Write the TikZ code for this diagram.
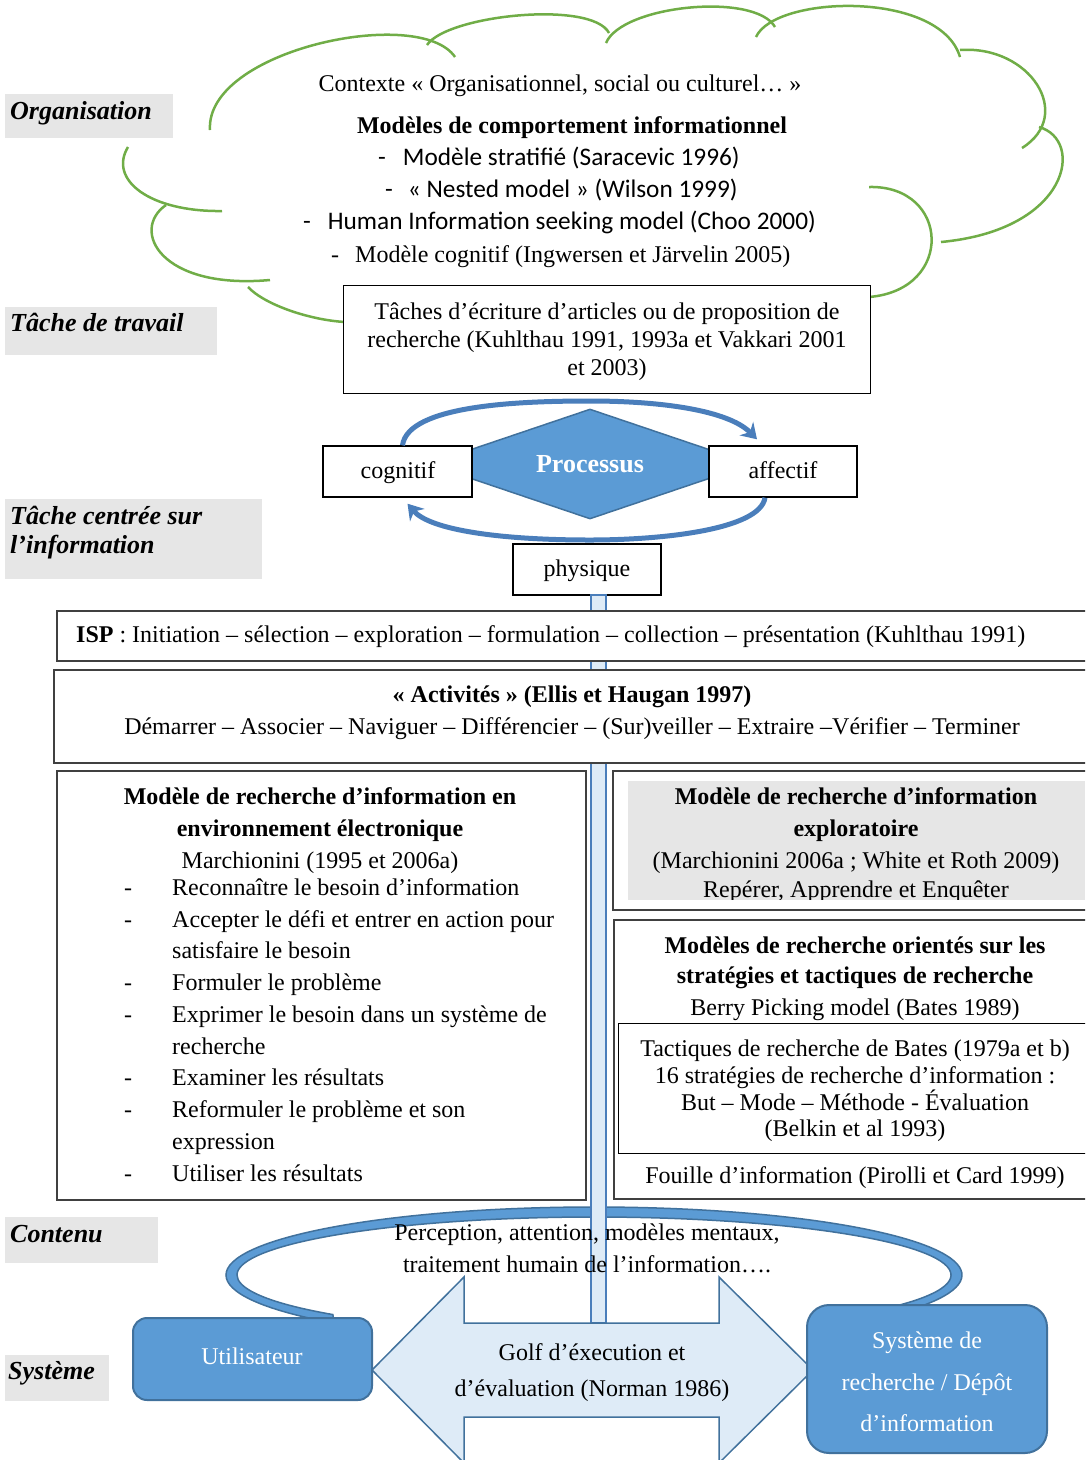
\documentclass[tikz,border=0pt]{standalone}
\usepackage{fontspec}
\setmainfont{Liberation Serif}
\newfontfamily\calib{Carlito}
\usetikzlibrary{arrows.meta,shapes.geometric}
\definecolor{cloudgreen}{HTML}{70AD47}
\definecolor{labelgray}{HTML}{E6E6E6}
\definecolor{boxline}{HTML}{404040}
\definecolor{blueA}{HTML}{5B9BD5}
\definecolor{blueB}{HTML}{41719C}
\definecolor{blueC}{HTML}{4A7EBB}
\definecolor{paleblue}{HTML}{DEEBF7}
\begin{document}
\begin{tikzpicture}[x=1pt,y=-1pt,
  txt/.style={inner sep=0pt, font=\fontsize{24}{30}\selectfont, text height=19pt, text depth=3pt},
  txtb/.style={txt, font=\fontsize{24}{30}\selectfont\bfseries},
  txtc/.style={txt, font=\calib\fontsize{25.3}{30}\selectfont},
  lab/.style={inner sep=0pt, anchor=west, font=\fontsize{26}{32}\selectfont\bfseries\itshape, text height=20pt, text depth=4pt},
  graybox/.style={fill=labelgray, inner sep=0pt, anchor=north west},
  boxnode/.style={draw=boxline, line width=1.6pt, fill=white, inner sep=0pt, anchor=north west},
  cloudarc/.style={draw=cloudgreen, line width=2.5pt},
  carrow/.style={draw=blueC, line width=5pt, -{Stealth[length=15pt,width=19pt]}},
  bluebox/.style={fill=blueA, draw=blueB, line width=2pt, inner sep=0pt},
  whitetxt/.style={text=white, inner sep=0pt, font=\fontsize{24}{41.5}\selectfont, align=center},
]
\useasboundingbox (0,0) rectangle (1085,1460);
\clip (0,0) rectangle (1085,1460);

% ---- level labels on the left
\node[graybox, minimum width=168pt, minimum height=44pt] (orgbox) at (5,94) {};
\node[lab] (org) at (10,111) {Organisation};
\node[graybox, minimum width=212pt, minimum height=48pt] (travbox) at (5,307) {};
\node[lab] (trav) at (10,323) {Tâche de travail};
\node[graybox, minimum width=257pt, minimum height=80pt] (infobox) at (5,499) {};
\node[lab] (info1) at (10,516) {Tâche centrée sur};
\node[lab] (info2) at (10,545) {l’information};
\node[graybox, minimum width=153pt, minimum height=46pt] (contbox) at (5,1217) {};
\node[lab] (cont) at (10,1234) {Contenu};
\node[graybox, minimum width=104pt, minimum height=46pt] (sysbox) at (5,1355) {};
\node[lab] (syst) at (8,1371) {Système};

% ---- the context cloud
\draw[cloudarc] (210,130) .. controls (205,50) and (420,5) .. (455,57);
\draw[cloudarc] (427,45) .. controls (447,15) and (592,0) .. (609,33);
\draw[cloudarc] (606,43) .. controls (622,5) and (755,-8) .. (775,27);
\draw[cloudarc] (756,37) .. controls (775,-5) and (940,-10) .. (960,57);
\draw[cloudarc] (960,50) .. controls (1030,45) and (1075,115) .. (1022,148);
\draw[cloudarc] (1039,127) .. controls (1085,140) and (1070,230) .. (941,242);
\draw[cloudarc] (869,187) .. controls (950,185) and (955,290) .. (869,297);
\draw[cloudarc] (128,147) .. controls (108,180) and (150,212) .. (222,211);
\draw[cloudarc] (166,205) .. controls (130,230) and (160,290) .. (270,280);
\draw[cloudarc] (248,287) .. controls (265,305) and (310,320) .. (345,322);

\node[txt] (ctx) at (560,83) {Contexte « Organisationnel, social ou culturel… »};
\node[txtb] (mct) at (572,125) {Modèles de comportement informationnel};
\node[txtc, anchor=west] (m1) at (378,157) {-\hspace{17pt}Modèle stratifié (Saracevic 1996)};
\node[txtc, anchor=west] (m2) at (385,189) {-\hspace{15pt}« Nested model » (Wilson 1999)};
\node[txtc, anchor=west] (m3) at (303,221) {-\hspace{17pt}Human Information seeking model (Choo 2000)};
\node[txt, anchor=west] (m4) at (331,254) {-\hspace{16pt}Modèle cognitif (Ingwersen et Järvelin 2005)};

% ---- work task
\node[boxnode, draw=black, line width=1.4pt, minimum width=527pt, minimum height=108pt] (taches) at (343,285) {};
\node[txt] (ta1) at (607,311) {Tâches d’écriture d’articles ou de proposition de};
\node[txt] (ta2) at (607,339) {recherche (Kuhlthau 1991, 1993a et Vakkari 2001};
\node[txt] (ta3) at (607,367) {et 2003)};

% ---- process diamond and its loop
\node[diamond, aspect=3, fill=blueA, draw=blueB, line width=1.5pt, minimum width=324pt, minimum height=110pt, inner sep=0pt, text=white, font=\fontsize{26}{30}\selectfont\bfseries] (proc) at (590,464) {Processus};
\node[boxnode, draw=black, line width=1.4pt, anchor=center, minimum width=149pt, minimum height=51pt] (cog) at (397.5,471.5) {};
\node[txt] (cogt) at (398,470) {cognitif};
\node[boxnode, draw=black, line width=1.4pt, anchor=center, minimum width=148pt, minimum height=51pt] (aff) at (783,471.5) {};
\node[txt] (afft) at (783,470) {affectif};
\coordinate (upTop) at (590,401);
\coordinate (lowBot) at (590,540);
\draw[carrow] ([xshift=5pt]cog.north) .. controls (408,405) and (520,401) .. (upTop) .. controls (660,401) and (728,410) .. ([xshift=-26pt,yshift=6pt]aff.north);
\draw[carrow] ([xshift=-18pt]aff.south) .. controls (760,530) and (660,540) .. (lowBot) .. controls (500,540) and (430,530) .. ([xshift=10pt,yshift=-6pt]cog.south);
\node[boxnode, draw=black, line width=1.4pt, anchor=center, minimum width=148pt, minimum height=51pt] (phys) at (587,569.5) {};
\node[txt] (physt) at (587,568) {physique};

% ---- feedback ring between user and system
\filldraw[fill=blueA, draw=blueB, line width=1.5pt]
  ({594+368*cos(135)},{1275+68*sin(135)}) arc[start angle=135, end angle=396, x radius=368, y radius=68]
  -- ({594+357*cos(394)},{1275+58*sin(394)}) arc[start angle=394, end angle=137, x radius=357, y radius=58] -- cycle;

% ---- vertical tube
\coordinate (tubeTop) at (591,595);
\coordinate (tubeEnd) at (606,1323);
\filldraw[fill=paleblue, draw=blueC, line width=1.8pt] (tubeTop) rectangle (tubeEnd);

% ---- ISP and activities
\node[boxnode, minimum width=1034pt, minimum height=50pt] (isp) at (56,610) {};
\node[txt, anchor=west] (ispt) at (76,634) {\textbf{ISP} : Initiation – sélection – exploration – formulation – collection – présentation (Kuhlthau 1991)};
\node[boxnode, minimum width=1037pt, minimum height=93pt] (act) at (53,669) {};
\node[txtb] (act1) at (572,694) {« Activités » (Ellis et Haugan 1997)};
\node[txt] (act2) at (572,726) {Démarrer – Associer – Naviguer – Différencier – (Sur)veiller – Extraire –Vérifier – Terminer};

% ---- electronic environment model
\node[boxnode, minimum width=529pt, minimum height=429pt] (elec) at (56,770) {};
\node[txtb] (el1) at (320,796) {Modèle de recherche d’information en};
\node[txtb] (el2) at (320,828) {environnement électronique};
\node[txt] (el3) at (320,860) {Marchionini (1995 et 2006a)};
\foreach \y/\n in {887/d1,919/d2,982/d3,1014/d4,1077/d5,1109/d6,1173/d7}
  \node[txt] (\n) at (128,\y) {-};
\node[txt, anchor=west] (l1) at (172,887) {Reconnaître le besoin d’information};
\node[txt, anchor=west] (l2) at (172,919) {Accepter le défi et entrer en action pour};
\node[txt, anchor=west] (l2b) at (172,950) {satisfaire le besoin};
\node[txt, anchor=west] (l3) at (172,982) {Formuler le problème};
\node[txt, anchor=west] (l4) at (172,1014) {Exprimer le besoin dans un système de};
\node[txt, anchor=west] (l4b) at (172,1046) {recherche};
\node[txt, anchor=west] (l5) at (172,1077) {Examiner les résultats};
\node[txt, anchor=west] (l6) at (172,1109) {Reformuler le problème et son};
\node[txt, anchor=west] (l6b) at (172,1141) {expression};
\node[txt, anchor=west] (l7) at (172,1173) {Utiliser les résultats};

% ---- exploratory search model
\node[boxnode, minimum width=478pt, minimum height=139pt] (expl) at (612,770) {};
\node[graybox, minimum width=457pt, minimum height=119pt] (explgray) at (628,781) {};
\node[txtb] (ex1) at (856,796) {Modèle de recherche d’information};
\node[txtb] (ex2) at (856,828) {exploratoire};
\node[txt] (ex3) at (856,860) {(Marchionini 2006a ; White et Roth 2009)};
\begin{scope}
  \clip (628,781) rectangle (1085,899);
  \node[txt] (ex4) at (856,889) {Repérer, Apprendre et Enquêter};
\end{scope}

% ---- strategies and tactics
\node[boxnode, minimum width=477pt, minimum height=279pt] (strat) at (613,919) {};
\node[txtb] (st1) at (855,945) {Modèles de recherche orientés sur les};
\node[txtb] (st2) at (855,975) {stratégies et tactiques de recherche};
\node[txt] (st3) at (855,1007) {Berry Picking model (Bates 1989)};
\node[boxnode, draw=black, line width=1.4pt, minimum width=472pt, minimum height=130pt] (tact) at (618,1023) {};
\node[txt] (tc1) at (855,1048) {Tactiques de recherche de Bates (1979a et b)};
\node[txt] (tc2) at (855,1075) {16 stratégies de recherche d’information :};
\node[txt] (tc3) at (855,1102) {But – Mode – Méthode - Évaluation};
\node[txt] (tc4) at (855,1128) {(Belkin et al 1993)};
\node[txt] (st4) at (855,1175) {Fouille d’information (Pirolli et Card 1999)};

% ---- ring caption
\node[txt] (pc1) at (587,1232) {Perception, attention, modèles mentaux,};
\node[txt] (pc2) at (587,1264) {traitement humain de l’information….};

% ---- execution / evaluation gulf
\filldraw[fill=paleblue, draw=blueB, line width=1.5pt]
  (372,1370) -- (464,1277) -- (464,1323) -- (719,1323) -- (719,1277) -- (813,1370)
  -- (719,1463) -- (719,1417) -- (464,1417) -- (464,1463) -- cycle;
\node[txt] (g1) at (592,1352) {Golf d’éxecution et};
\node[txt] (g2) at (592,1388) {d’évaluation (Norman 1986)};

\node[bluebox, rounded corners=14pt, minimum width=239pt, minimum height=82pt] (user) at (252.5,1359) {};
\node[whitetxt] (usert) at (252,1356) {Utilisateur};
\node[bluebox, rounded corners=22pt, minimum width=240pt, minimum height=148pt] (sys) at (927,1379) {};
\node[whitetxt] (syst2) at (927,1382) {Système de\\recherche / Dépôt\\d’information};
\end{tikzpicture}
\end{document}
